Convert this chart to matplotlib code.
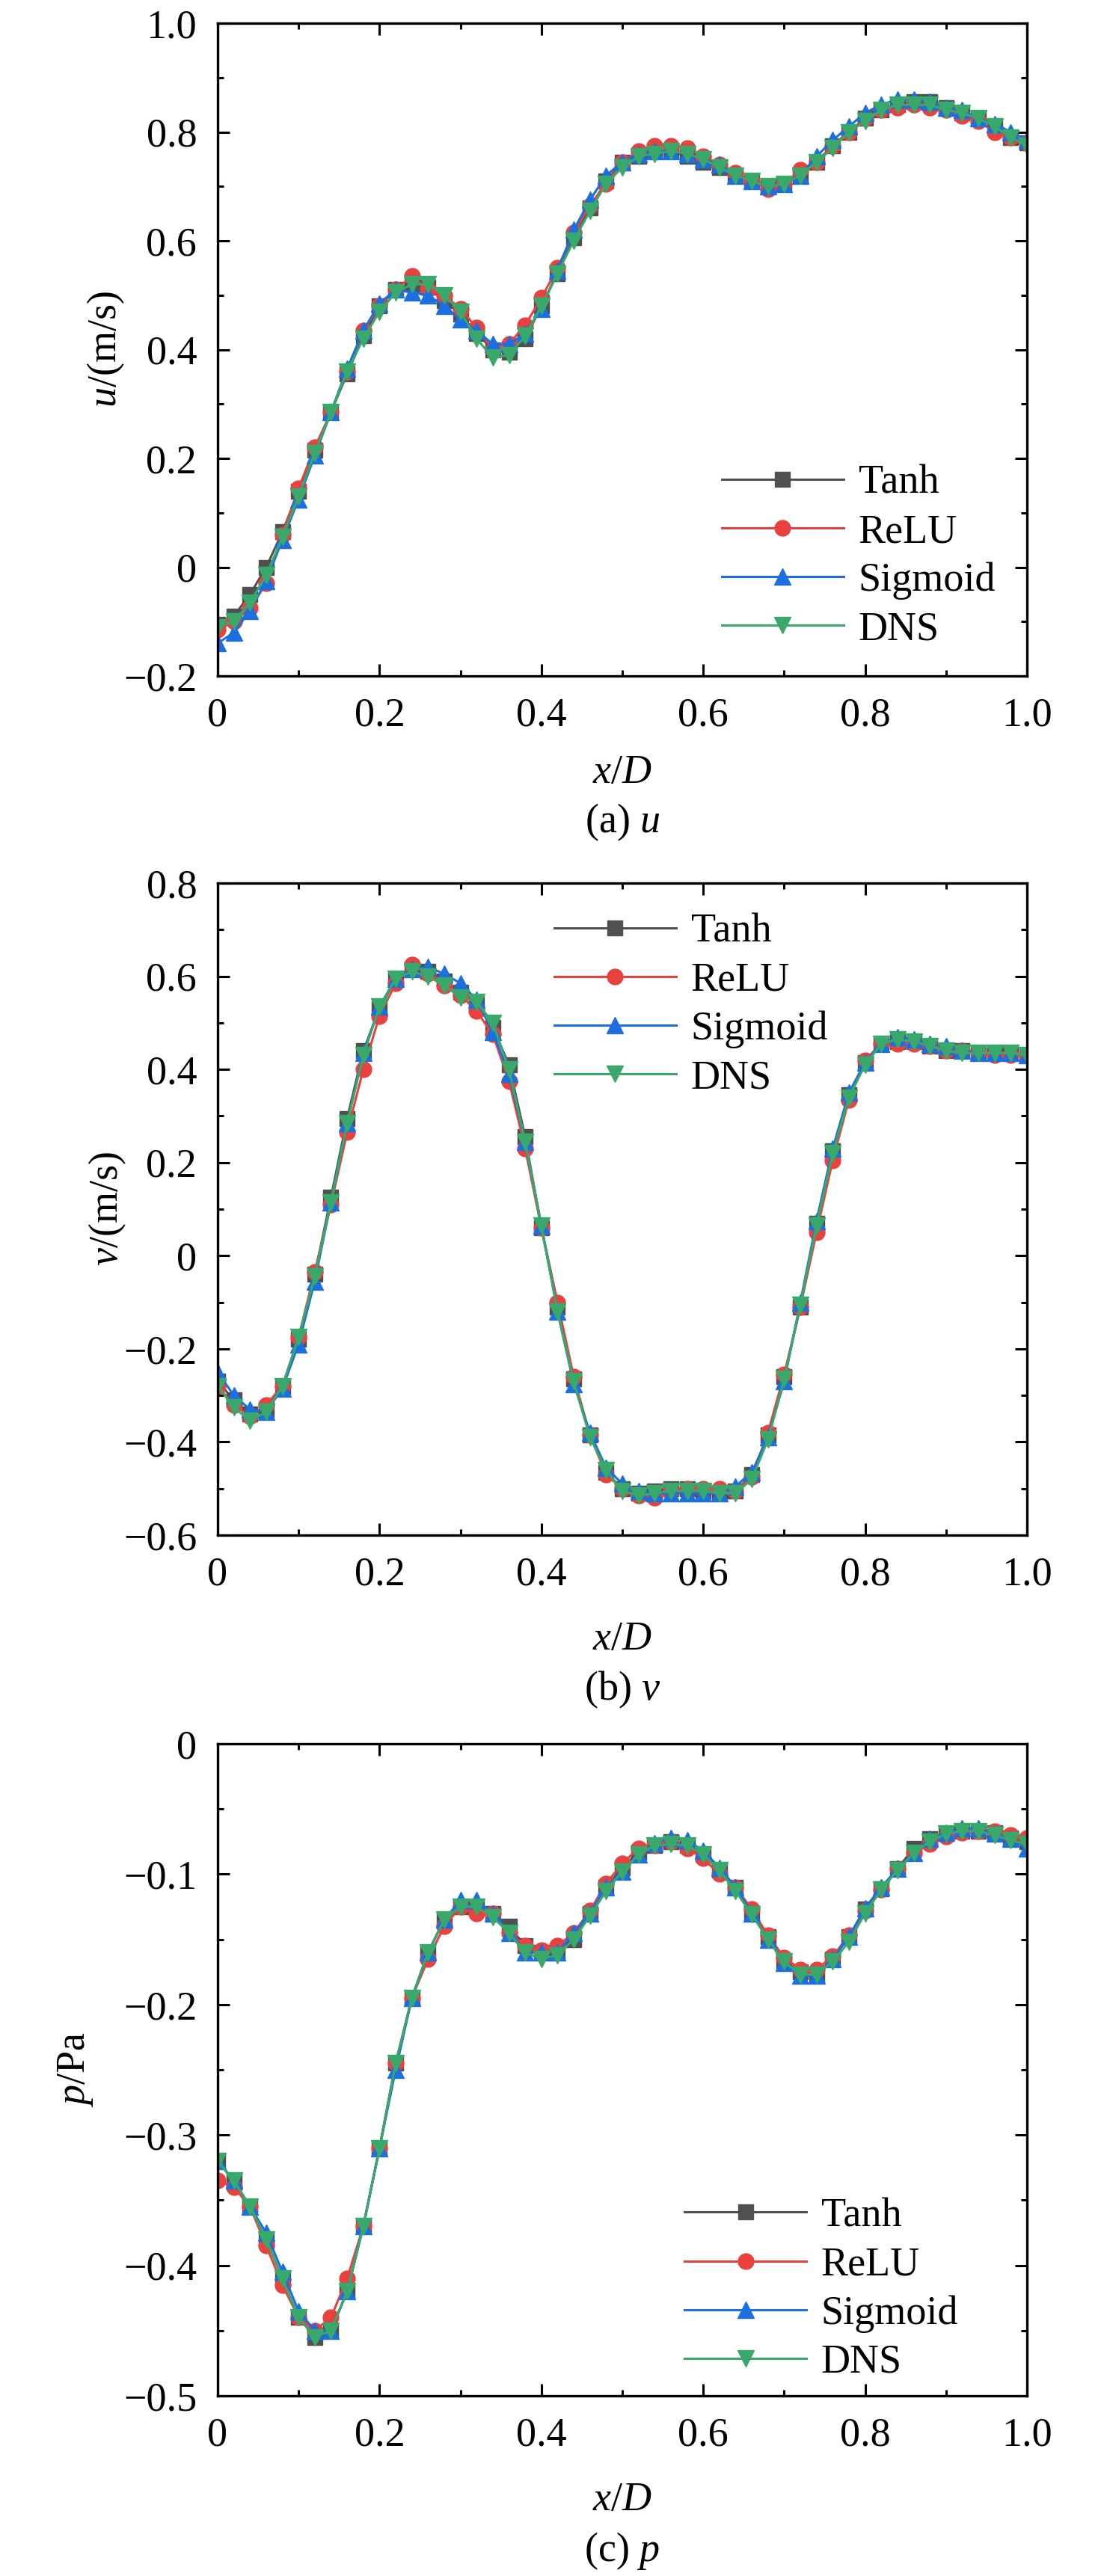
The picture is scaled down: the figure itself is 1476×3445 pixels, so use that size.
import numpy as np
import matplotlib
matplotlib.use('Agg')
import matplotlib.pyplot as plt
from matplotlib.ticker import MultipleLocator, FuncFormatter

plt.rcParams['font.family'] = ['Liberation Serif', 'DejaVu Serif']
plt.rcParams['mathtext.fontset'] = 'custom'
plt.rcParams['mathtext.rm'] = 'Liberation Serif'
plt.rcParams['mathtext.it'] = 'Liberation Serif:italic'
plt.rcParams['font.size'] = 39
plt.rcParams['axes.unicode_minus'] = True

# sample points along x/D (step 0.02)
x_d = np.linspace(0, 1, 51)

# (a) u
u_tanh = [-0.105, -0.09, -0.05, 0.0, 0.065, 0.14, 0.215, 0.285, 0.355, 0.425, 0.48, 0.51, 0.52, 0.515, 0.49,
          0.465, 0.43, 0.40, 0.395, 0.42, 0.48, 0.54, 0.605, 0.66, 0.71, 0.745, 0.755, 0.765, 0.765, 0.755,
          0.745, 0.735, 0.72, 0.71, 0.70, 0.705, 0.72, 0.745, 0.775, 0.80, 0.825, 0.84, 0.85, 0.855, 0.855,
          0.845, 0.835, 0.825, 0.81, 0.79, 0.78]
u_relu = [-0.115, -0.10, -0.075, -0.03, 0.06, 0.145, 0.22, 0.285, 0.36, 0.435, 0.48, 0.51, 0.535, 0.51, 0.50,
          0.475, 0.44, 0.40, 0.41, 0.445, 0.495, 0.55, 0.615, 0.665, 0.705, 0.745, 0.765, 0.775, 0.775, 0.77,
          0.755, 0.74, 0.725, 0.71, 0.695, 0.705, 0.73, 0.745, 0.775, 0.80, 0.825, 0.84, 0.845, 0.85, 0.845,
          0.84, 0.83, 0.82, 0.80, 0.79, 0.78]
u_sig = [-0.14, -0.12, -0.08, -0.025, 0.05, 0.125, 0.205, 0.285, 0.365, 0.435, 0.485, 0.51, 0.505, 0.50, 0.48,
         0.455, 0.435, 0.41, 0.41, 0.43, 0.475, 0.545, 0.62, 0.675, 0.72, 0.745, 0.76, 0.765, 0.765, 0.76,
         0.75, 0.74, 0.72, 0.71, 0.70, 0.705, 0.72, 0.755, 0.785, 0.81, 0.835, 0.85, 0.86, 0.86, 0.855,
         0.845, 0.84, 0.825, 0.815, 0.80, 0.785]
u_dns = [-0.11, -0.10, -0.065, -0.015, 0.055, 0.13, 0.21, 0.285, 0.36, 0.42, 0.47, 0.505, 0.52, 0.52, 0.50,
         0.47, 0.42, 0.385, 0.39, 0.425, 0.48, 0.54, 0.60, 0.655, 0.705, 0.735, 0.755, 0.76, 0.765, 0.76,
         0.75, 0.735, 0.72, 0.71, 0.70, 0.705, 0.72, 0.745, 0.77, 0.80, 0.82, 0.84, 0.85, 0.85, 0.85,
         0.84, 0.835, 0.825, 0.81, 0.79, 0.775]

# (b) v
v_tanh = [-0.27, -0.31, -0.34, -0.33, -0.28, -0.18, -0.04, 0.125, 0.295, 0.44, 0.53, 0.595, 0.615, 0.61, 0.59,
          0.565, 0.54, 0.49, 0.41, 0.255, 0.06, -0.11, -0.265, -0.385, -0.465, -0.50, -0.51, -0.505, -0.50, -0.50,
          -0.505, -0.51, -0.505, -0.47, -0.385, -0.26, -0.11, 0.07, 0.225, 0.345, 0.415, 0.455, 0.46, 0.46, 0.45,
          0.44, 0.44, 0.435, 0.435, 0.435, 0.43]
v_relu = [-0.28, -0.32, -0.345, -0.32, -0.28, -0.175, -0.035, 0.11, 0.265, 0.40, 0.515, 0.585, 0.625, 0.605, 0.58,
          0.56, 0.525, 0.475, 0.375, 0.23, 0.06, -0.10, -0.26, -0.385, -0.47, -0.50, -0.515, -0.52, -0.505, -0.50,
          -0.50, -0.50, -0.505, -0.475, -0.38, -0.255, -0.11, 0.05, 0.205, 0.335, 0.42, 0.455, 0.455, 0.455, 0.45,
          0.44, 0.44, 0.435, 0.43, 0.43, 0.43]
v_sig = [-0.25, -0.30, -0.33, -0.335, -0.285, -0.19, -0.055, 0.115, 0.285, 0.435, 0.535, 0.595, 0.615, 0.62, 0.605,
         0.585, 0.55, 0.48, 0.39, 0.245, 0.065, -0.12, -0.275, -0.38, -0.455, -0.49, -0.505, -0.51, -0.51, -0.51,
         -0.51, -0.51, -0.495, -0.465, -0.39, -0.27, -0.10, 0.075, 0.23, 0.35, 0.415, 0.455, 0.47, 0.465, 0.455,
         0.45, 0.44, 0.435, 0.435, 0.435, 0.43]
v_dns = [-0.28, -0.325, -0.355, -0.335, -0.28, -0.175, -0.045, 0.115, 0.285, 0.43, 0.535, 0.595, 0.61, 0.60, 0.58,
         0.555, 0.545, 0.50, 0.40, 0.245, 0.065, -0.12, -0.27, -0.39, -0.46, -0.505, -0.515, -0.51, -0.505, -0.505,
         -0.505, -0.51, -0.51, -0.48, -0.395, -0.265, -0.105, 0.065, 0.22, 0.34, 0.41, 0.455, 0.465, 0.46, 0.45,
         0.44, 0.435, 0.435, 0.435, 0.435, 0.43]

# (c) p
p_tanh = [-0.32, -0.335, -0.355, -0.38, -0.41, -0.44, -0.455, -0.45, -0.42, -0.37, -0.31, -0.245, -0.195, -0.16,
          -0.135, -0.125, -0.125, -0.13, -0.14, -0.155, -0.16, -0.16, -0.15, -0.13, -0.11, -0.095, -0.083, -0.078,
          -0.075, -0.078, -0.085, -0.097, -0.11, -0.13, -0.148, -0.167, -0.175, -0.177, -0.165, -0.148, -0.127,
          -0.111, -0.096, -0.08, -0.073, -0.069, -0.067, -0.067, -0.068, -0.072, -0.075]
p_relu = [-0.335, -0.34, -0.355, -0.385, -0.415, -0.44, -0.45, -0.44, -0.41, -0.37, -0.31, -0.245, -0.195, -0.165,
          -0.14, -0.125, -0.13, -0.13, -0.145, -0.155, -0.158, -0.155, -0.145, -0.128, -0.107, -0.092, -0.08, -0.078,
          -0.075, -0.08, -0.088, -0.10, -0.11, -0.127, -0.147, -0.164, -0.173, -0.173, -0.163, -0.147, -0.128,
          -0.112, -0.096, -0.084, -0.077, -0.071, -0.068, -0.067, -0.067, -0.07, -0.072]
p_sig = [-0.32, -0.335, -0.355, -0.375, -0.405, -0.435, -0.45, -0.45, -0.42, -0.37, -0.31, -0.25, -0.195, -0.16,
         -0.135, -0.12, -0.12, -0.13, -0.145, -0.16, -0.16, -0.16, -0.145, -0.13, -0.11, -0.098, -0.085, -0.076,
         -0.072, -0.074, -0.082, -0.095, -0.11, -0.13, -0.15, -0.168, -0.178, -0.178, -0.165, -0.148, -0.126,
         -0.11, -0.096, -0.084, -0.073, -0.068, -0.065, -0.065, -0.069, -0.073, -0.08]
p_dns = [-0.32, -0.335, -0.355, -0.38, -0.41, -0.44, -0.455, -0.45, -0.42, -0.37, -0.31, -0.245, -0.195, -0.16,
         -0.135, -0.125, -0.125, -0.133, -0.145, -0.16, -0.165, -0.162, -0.15, -0.132, -0.113, -0.098, -0.085, -0.078,
         -0.077, -0.078, -0.085, -0.097, -0.113, -0.131, -0.15, -0.167, -0.177, -0.177, -0.167, -0.152, -0.13,
         -0.112, -0.097, -0.084, -0.075, -0.069, -0.067, -0.067, -0.07, -0.074, -0.077]

names = ['Tanh', 'ReLU', 'Sigmoid', 'DNS']
colors = ['#505050', '#e8413e', '#1b6fe0', '#38a96a']
markers = ['s', 'o', '^', 'v']
msizes = [14, 15, 16, 16]


def tick_fmt(v, pos):
    if abs(v) < 1e-9:
        return '0'
    return ('%.1f' % v).replace('-', '\u2212')


fig = plt.figure(figsize=(14.76, 34.45), dpi=100)

panels = [
    ([u_tanh, u_relu, u_sig, u_dns], (-0.2, 1.0), 0.2, '$u$/(m/s)', '(a) $u$',
     [0.19715, 0.73759, 0.73306, 0.25341], 'lower left', (0.623, 0.042), -0.138, (-0.164, -0.240)),
    ([v_tanh, v_relu, v_sig, v_dns], (-0.6, 0.8), 0.2, '$v$/(m/s)', '(b) $v$',
     [0.19715, 0.40406, 0.73306, 0.25312], 'upper left', (0.416, 0.954), -0.136, (-0.176, -0.253)),
    ([p_tanh, p_relu, p_sig, p_dns], (-0.5, 0.0), 0.1, '$p$/Pa', '(c) $p$',
     [0.19715, 0.06996, 0.73306, 0.25312], 'lower left', (0.577, 0.022), -0.176, (-0.176, -0.253)),
]

for series, ylim, ystep, ylab, cap, rect, lloc, anchor, ylx, (xly, capy) in panels:
    ax = fig.add_axes(rect)
    for vals, name, c, m, ms in zip(series, names, colors, markers, msizes):
        ax.plot(x_d, vals, color=c, marker=m, markersize=ms, markeredgecolor=c,
                linewidth=2.2, label=name)

    ax.set_xlim(0, 1)
    ax.set_ylim(*ylim)
    ax.xaxis.set_major_locator(MultipleLocator(0.2))
    ax.xaxis.set_minor_locator(MultipleLocator(0.1))
    ax.yaxis.set_major_locator(MultipleLocator(ystep))
    ax.yaxis.set_minor_locator(MultipleLocator(ystep / 2))
    ax.xaxis.set_major_formatter(FuncFormatter(tick_fmt))
    ax.yaxis.set_major_formatter(FuncFormatter(tick_fmt))
    ax.tick_params(which='both', direction='in', top=True, right=True, width=2.2, pad=20)
    ax.tick_params(which='major', length=11.5)
    ax.tick_params(which='minor', length=6)
    for sp in ax.spines.values():
        sp.set_linewidth(2.4)

    ax.set_ylabel(ylab, ha='center', va='center')
    ax.yaxis.set_label_coords(ylx, 0.5)
    ax.set_xlabel('$x$/$D$', va='baseline')
    ax.xaxis.set_label_coords(0.5, xly)
    ax.text(0.5, capy, cap, transform=ax.transAxes, ha='center', va='baseline')

    ax.legend(loc=lloc, bbox_to_anchor=anchor, frameon=False, borderpad=0, borderaxespad=0,
              handlelength=3.0, handletextpad=0.37, labelspacing=0.27, numpoints=1)

fig.savefig('out.png', dpi=100)
